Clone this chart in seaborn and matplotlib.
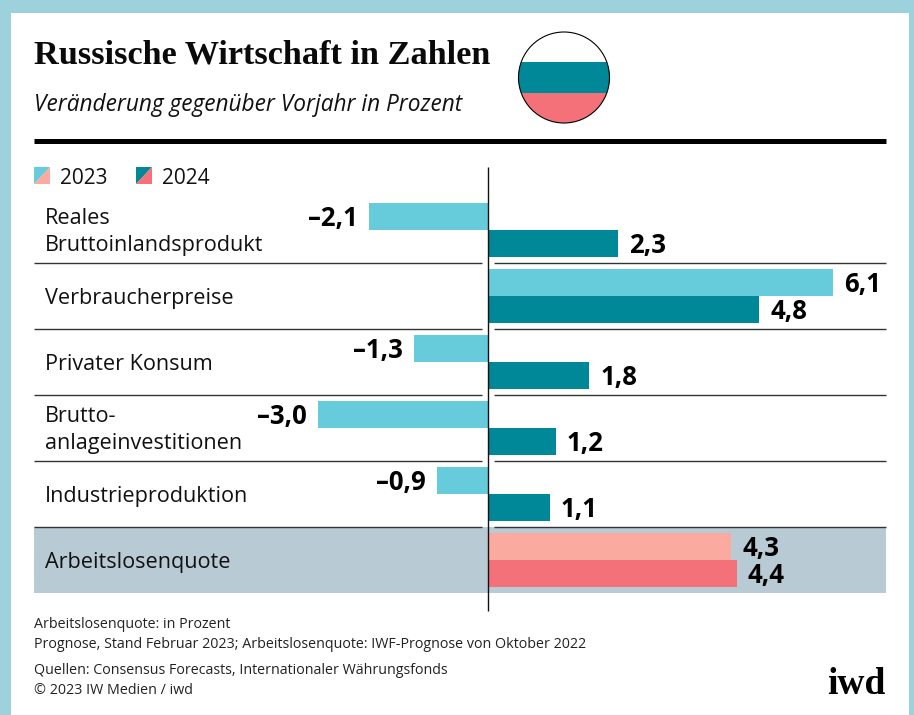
"""
Russische Wirtschaft in Zahlen - iwd bar chart
"""
import matplotlib
matplotlib.use('Agg')
import matplotlib.pyplot as plt
import pandas as pd
import seaborn as sns
from matplotlib.patches import Ellipse, Rectangle, Polygon

# Data
categories = ['Reales\nBruttoinlandsprodukt', 'Verbraucherpreise', 'Privater Konsum',
              'Brutto-\nanlageinvestitionen', 'Industrieproduktion', 'Arbeitslosenquote']
values_2023 = [-2.1, 6.1, -1.3, -3.0, -0.9, 4.3]
values_2024 = [2.3, 4.8, 1.8, 1.2, 1.1, 4.4]
years = ['2023', '2024']

# Colours
page_bg = '#9dd1dc'
light_teal = '#66cbda'
dark_teal = '#008798'
light_red = '#fbaaa0'
dark_red = '#f4717a'
band = '#b8cad3'

W, H = 914, 715
ZERO = 487.6
sans = 'Open Sans'
slab = 'Liberation Serif'

df = pd.DataFrame({
    'category': categories * 2,
    'value': values_2023 + values_2024,
    'year': [years[0]] * 6 + [years[1]] * 6,
})

sns.set_theme(style='white')
plt.rcParams['font.family'] = [sans, 'DejaVu Sans']

fig = plt.figure(figsize=(W / 100, H / 100), dpi=100, facecolor=page_bg)

# Overlay in pixel coordinates for the page furniture
bg = fig.add_axes([0, 0, 1, 1], zorder=0)
bg.set_xlim(0, W)
bg.set_ylim(H, 0)
bg.axis('off')
bg.add_patch(Rectangle((11, 13), 898, 702, fc='white', ec='none'))
bg.add_patch(Rectangle((34, 527), 852, 66, fc=band, ec='none'))

# Main chart
left, right, top, bottom = 34, 886, 197, 593
ax = fig.add_axes([left / W, 1 - bottom / H, (right - left) / W, (bottom - top) / H], zorder=1)
ax.patch.set_alpha(0)
sns.barplot(data=df, x='value', y='category', hue='year', order=categories, hue_order=years,
            palette=[light_teal, dark_teal], width=0.818, dodge=True, legend=False,
            saturation=1, ax=ax)
ax.set_xlim((left - ZERO) / 56.6, (right - ZERO) / 56.6)
ax.set_ylim(5.5, -0.5)
ax.axis('off')

# Last category is red, and value labels
for i, cont in enumerate(ax.containers):
    vals = values_2023 if i == 0 else values_2024
    for j, bar in enumerate(cont):
        if j == 5:
            bar.set_facecolor(light_red if i == 0 else dark_red)
        bar.set_linewidth(0)
        txt = f'{abs(vals[j]):.1f}'.replace('.', ',')
        if vals[j] < 0:
            txt = '\u2013' + txt
        ax.annotate(txt, (vals[j], bar.get_y() + bar.get_height() / 2),
                    xytext=(8 if vals[j] > 0 else -8, -1.5), textcoords='offset points',
                    ha='left' if vals[j] > 0 else 'right', va='center',
                    fontsize=18.5, fontweight='bold', color='black')

# Category labels
for i, c in enumerate(categories):
    ax.annotate(c, (0, i), xycoords=ax.get_yaxis_transform(), xytext=(8, -1.5),
                textcoords='offset points', ha='left', va='center', fontsize=15.6,
                linespacing=1.33, color='#111111')

# Separators, broken around the zero line
for y in [262.5, 328.5, 394.5, 460.5, 526.5]:
    bg.plot([34, 482], [y, y], color='#333333', lw=1, solid_capstyle='butt', zorder=3)
    bg.plot([494, 886], [y, y], color='#333333', lw=1, solid_capstyle='butt', zorder=3)

top_ax = fig.add_axes([0, 0, 1, 1], zorder=2)
top_ax.set_xlim(0, W)
top_ax.set_ylim(H, 0)
top_ax.axis('off')
top_ax.plot([ZERO, ZERO], [167, 611], color='#111111', lw=1, solid_capstyle='butt')
top_ax.plot([34, 886], [141, 141], color='black', lw=3.6, solid_capstyle='butt')

# Title
top_ax.text(34, 55, 'Russische Wirtschaft in Zahlen', fontsize=24.7, fontweight='bold',
            family=slab, va='center', ha='left', color='#0a0a0a')
top_ax.text(34, 105, 'Veränderung gegenüber Vorjahr in Prozent', fontsize=16.3, style='italic',
            va='center', ha='left', color='#111111')

# Flag
clip = Ellipse((564, 77.5), 91, 91, transform=top_ax.transData)
for y0, y1, col in [(32, 62, 'white'), (62, 93, dark_teal), (93, 124, dark_red)]:
    r = Rectangle((518, y0), 92, y1 - y0, fc=col, ec='none')
    top_ax.add_patch(r)
    r.set_clip_path(clip)
top_ax.add_patch(Ellipse((564, 77.5), 91, 91, fc='none', ec='black', lw=0.8))

# Legend
for x0, upper, lower, label in [(34, light_teal, light_red, years[0]),
                                (136, dark_teal, dark_red, years[1])]:
    top_ax.add_patch(Polygon([(x0, 167), (x0 + 16, 167), (x0, 184)], fc=upper, ec='none'))
    top_ax.add_patch(Polygon([(x0 + 16, 167), (x0 + 16, 184), (x0, 184)], fc=lower, ec='none'))
    top_ax.text(x0 + 26, 178, label, fontsize=15, va='center', ha='left', color='#111111')

# Footer
for y, line in [(625, 'Arbeitslosenquote: in Prozent'),
                (644, 'Prognose, Stand Februar 2023; Arbeitslosenquote: IWF-Prognose von Oktober 2022'),
                (671, 'Quellen: Consensus Forecasts, Internationaler Währungsfonds'),
                (690, '© 2023 IW Medien / iwd')]:
    top_ax.text(34, y, line, fontsize=10.3, va='center', ha='left', color='#222222')
top_ax.text(886, 684, 'iwd', fontsize=27, fontweight='bold', family=slab,
            va='center', ha='right', color='black')

fig.savefig('out.png', dpi=100, facecolor=page_bg)
